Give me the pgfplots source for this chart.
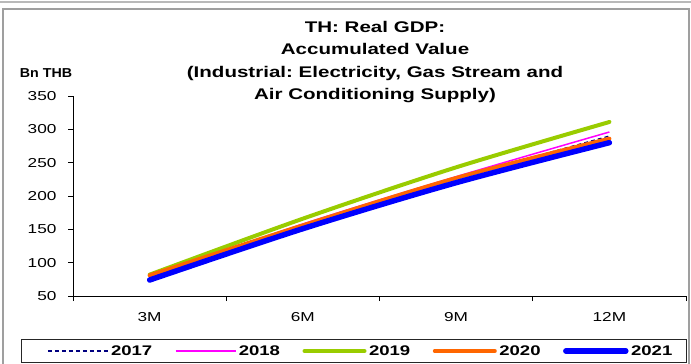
\documentclass[border=0pt]{standalone}
\usepackage{fontspec}
\setmainfont{Liberation Sans}[FakeStretch=1.33]
\newfontfamily\plainfont{Liberation Sans}[FakeStretch=1.1]
\usepackage{pgfplots}
\pgfplotsset{compat=1.18}
\definecolor{c2017}{HTML}{000080}
\definecolor{c2018}{HTML}{FF00FF}
\definecolor{c2019}{HTML}{99CC00}
\definecolor{c2020}{HTML}{FF6600}
\definecolor{c2021}{HTML}{0000FF}
\frenchspacing
\begin{document}
\begin{tikzpicture}[x=1bp,y=1bp]
\useasboundingbox (0,0) rectangle (691,363);
\draw[gray!55, line width=1.2bp] (0,361) -- (691,361);
\draw[gray!75, line width=1.2bp] (3,-1) -- (3,354) -- (689,354) -- (689,-1);
\node[anchor=north, align=center, font=\bfseries\fontsize{15.5}{22.5}\selectfont, inner sep=0pt] at (375,342) {TH: Real GDP:\\Accumulated Value\\(Industrial: Electricity, Gas Stream and\\Air Conditioning Supply)};
\node[font=\plainfont\bfseries\fontsize{13}{15}\selectfont] at (46,290) {Bn THB};
\draw[black!85, line width=1bp] (21,24) rectangle (686,1);
\begin{axis}[
 at={(73bp,67bp)}, anchor=south west, scale only axis, width=613bp, height=200bp,
 xmin=0.5, xmax=4.5, ymin=50, ymax=350,
 axis x line*=bottom, axis y line*=left,
 axis line style={black, line width=0.8bp},
 xtick={1,2,3,4}, xticklabels={3M,6M,9M,12M},
 major x tick style={draw=none},
 minor xtick={0.5,1.5,2.5,3.5,4.5},
 ytick={50,100,...,350},
 tick align=outside, major tick length=5bp, minor tick length=5bp,
 tick style={black, line width=0.8bp},
 ticklabel style={font=\fontsize{13}{15}\selectfont},
 /pgf/number format/assume math mode=true,
 xticklabel style={yshift=-8bp},
 yticklabel style={xshift=-8bp},
 legend columns=5,
 legend style={draw=none, fill=none, at={(rel axis cs:0,0)}, anchor=west, xshift=-26bp, yshift=-55bp, inner sep=0pt,
   nodes={inner sep=2.5bp},
   font=\bfseries\fontsize{14}{16}\selectfont,
   /tikz/every even column/.append style={column sep=20bp}},
 legend image code/.code={\draw[#1] (0bp,0bp) -- (60bp,0bp);},
]
\addplot[c2017, line width=1.3bp, dash pattern=on 4bp off 3bp, smooth] coordinates {(1,78)(2,157)(3,226)(4,290)};
\addlegendentry{2017}
\addplot[c2018, line width=1.5bp, smooth] coordinates {(1,79)(2,158)(3,229)(4,296)};
\addlegendentry{2018}
\addplot[c2019, line width=4bp, smooth, line cap=round] coordinates {(1,82)(2,166)(3,243)(4,311)};
\addlegendentry{2019}
\addplot[c2020, line width=4bp, smooth, line cap=round] coordinates {(1,81)(2,156)(3,227)(4,286)};
\addlegendentry{2020}
\addplot[c2021, line width=5.5bp, smooth, line cap=round] coordinates {(1,74)(2,151)(3,220)(4,280)};
\addlegendentry{2021}
\end{axis}
\end{tikzpicture}
\end{document}
